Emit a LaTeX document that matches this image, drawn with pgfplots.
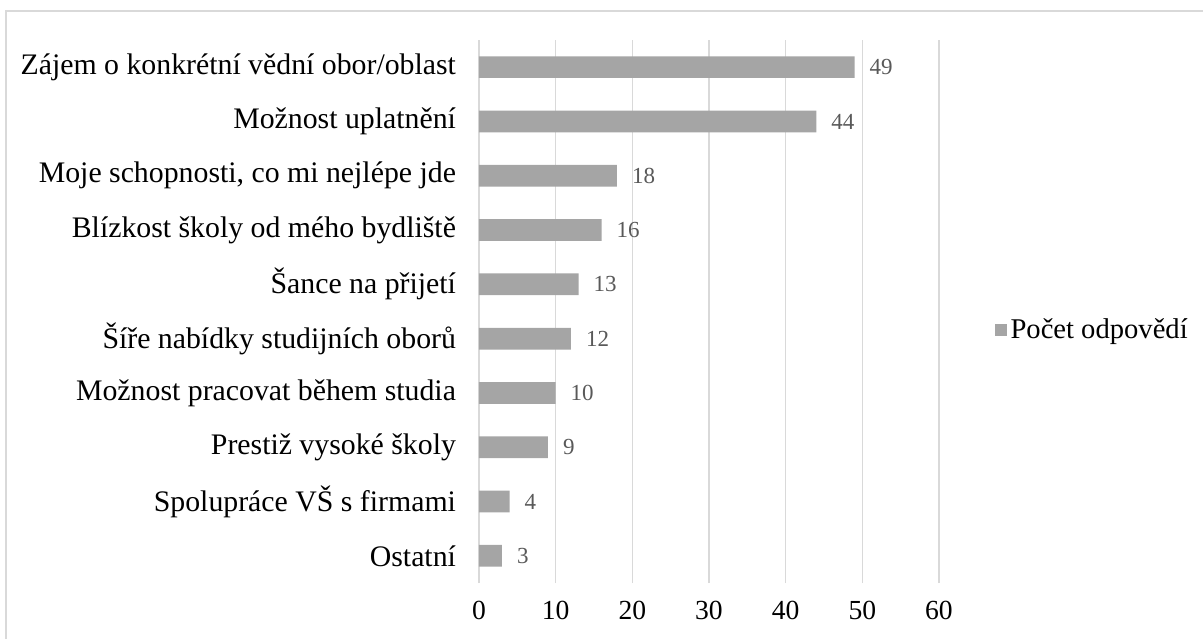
\documentclass[border=0pt]{standalone}
\usepackage{pgfplots}
\pgfplotsset{compat=1.18}
\usepackage{fontspec}
\setmainfont{Liberation Serif}
\definecolor{barc}{HTML}{A5A5A5}
\definecolor{gridc}{HTML}{D9D9D9}
\definecolor{lblc}{HTML}{595959}
\begin{document}
\begin{tikzpicture}
\path[use as bounding box] (-239.5bp,-28bp) rectangle (362bp,291.5bp);
\draw[gridc, line width=0.8bp] (-236.5bp,-60bp) |- (400bp,286bp);
\begin{axis}[
  scale only axis,
  width=230bp, height=271.5bp,
  xbar, bar width=0.4,
  xmin=0, xmax=60, ymin=-0.5, ymax=9.5,
  xtick={0,10,...,60},
  ytick={0,...,9},
  yticklabels={Ostatní,Spolupráce VŠ s firmami,Prestiž vysoké školy,Možnost pracovat během studia,Šíře nabídky studijních oborů,Šance na přijetí,Blízkost školy od mého bydliště,{Moje schopnosti, co mi nejlépe jde},Možnost uplatnění,Zájem o konkrétní vědní obor/oblast},
  axis line style={draw=none},
  major tick length=0pt,
  xmajorgrids, grid style={gridc, line width=0.8bp},
  /pgf/number format/assume math mode=true,
  xticklabel style={font=\fontsize{13.8bp}{16bp}\selectfont, yshift=-5.5bp},
  yticklabel style={font=\fontsize{14.9bp}{17bp}\selectfont, xshift=-8bp},
  nodes near coords,
  nodes near coords style={font=\fontsize{11.5bp}{13bp}\selectfont, text=lblc, anchor=west, xshift=4bp},
  legend style={at={(1.12,0.466)}, anchor=west, draw=none, fill=none, font=\fontsize{14.3bp}{17bp}\selectfont, inner sep=0pt},
  legend image code/.code={\fill[barc] (0bp,-3bp) rectangle (6bp,3bp);},
]
\addplot[fill=barc, draw=none] coordinates {
(3,0) (4,1) (9,2) (10,3) (12,4) (13,5) (16,6) (18,7) (44,8) (49,9)};
\addlegendentry{Počet odpovědí}
\end{axis}
\end{tikzpicture}
\end{document}
